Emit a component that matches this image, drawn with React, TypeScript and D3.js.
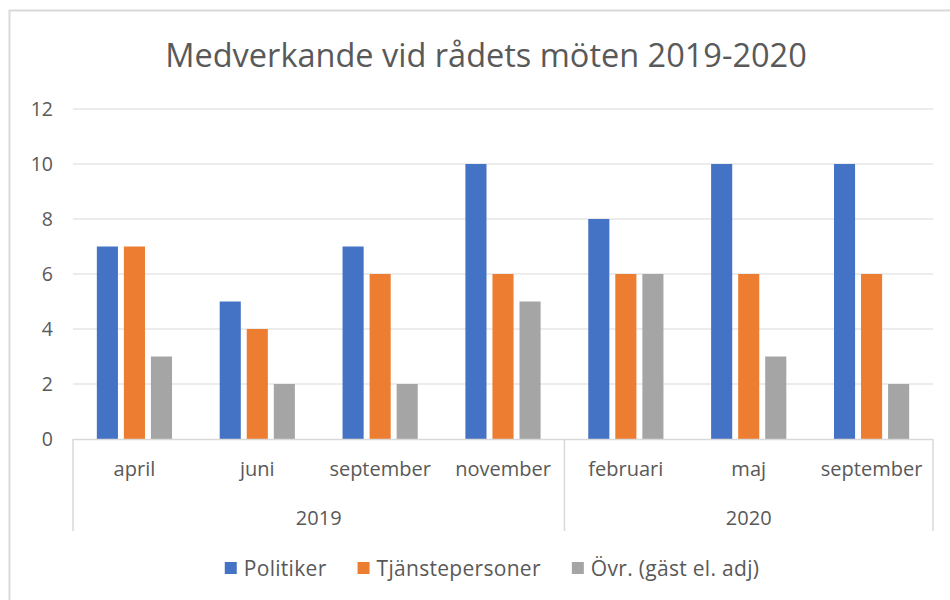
import React, { useEffect, useRef } from 'react'
import * as d3 from 'd3'

const title = 'Medverkande vid rådets möten 2019-2020'
const months = ['april', 'juni', 'september', 'november', 'februari', 'maj', 'september']
const years = ['2019', '2019', '2019', '2019', '2020', '2020', '2020']
const seriesNames = ['Politiker', 'Tjänstepersoner', 'Övr. (gäst el. adj)']
const politiker = [7, 5, 7, 10, 8, 10, 10]
const tjanstepersoner = [7, 4, 6, 6, 6, 6, 6]
const ovriga = [3, 2, 2, 5, 6, 3, 2]
const yTicks = [0, 2, 4, 6, 8, 10, 12]
const colors = ['#4472C4', '#ED7D31', '#A5A5A5']

const FONT = "'Open Sans', 'Noto Sans', sans-serif"
const TEXT = '#595959'

export default function App() {
  const svgRef = useRef<SVGSVGElement>(null)

  useEffect(() => {
    if (!svgRef.current) return
    const svg = d3.select(svgRef.current)
    svg.selectAll('*').remove()

    const width = 950
    const height = 600
    const margin = { top: 109, right: 17, bottom: 161, left: 73 }
    const innerW = width - margin.left - margin.right
    const innerH = height - margin.top - margin.bottom

    // frame (chart is cropped on right and bottom)
    svg.append('rect')
      .attr('x', 9.5).attr('y', 10.5)
      .attr('width', 960).attr('height', 620)
      .attr('fill', '#fff')
      .attr('stroke', '#d9d9d9')
      .attr('stroke-width', 2)

    svg.append('text')
      .attr('x', 486)
      .attr('y', 67)
      .attr('text-anchor', 'middle')
      .style('font-family', FONT)
      .style('font-size', '32.5px')
      .style('fill', TEXT)
      .text(title)

    const g = svg.append('g').attr('transform', `translate(${margin.left},${margin.top})`)

    const idx = months.map((_, i) => i)
    const x0 = d3.scaleBand<number>().domain(idx).range([0, innerW]).padding(0)
    const groupW = x0.bandwidth() * 0.612
    const x1 = d3.scaleBand<number>().domain([0, 1, 2])
      .range([(x0.bandwidth() - groupW) / 2, (x0.bandwidth() + groupW) / 2])
      .paddingInner(0.22).paddingOuter(0)
    const y = d3.scaleLinear().domain([0, 12]).range([innerH, 0])

    // gridlines
    g.selectAll('.grid')
      .data(yTicks.filter(d => d > 0))
      .enter()
      .append('line')
      .attr('x1', 0).attr('x2', innerW)
      .attr('y1', d => y(d)).attr('y2', d => y(d))
      .style('stroke', '#d9d9d9')
      .style('stroke-width', 1)

    // y labels
    g.selectAll('.ylab')
      .data(yTicks)
      .enter()
      .append('text')
      .attr('x', -20)
      .attr('y', d => y(d))
      .attr('dy', '0.35em')
      .attr('text-anchor', 'end')
      .style('font-family', FONT)
      .style('font-size', '19.5px')
      .style('fill', TEXT)
      .text(d => d)

    const series = [politiker, tjanstepersoner, ovriga]
    series.forEach((vals, s) => {
      g.selectAll(`.bar-${s}`)
        .data(vals)
        .enter()
        .append('rect')
        .attr('x', (_, i) => (x0(i) as number) + (x1(s) as number))
        .attr('y', d => y(d))
        .attr('width', x1.bandwidth())
        .attr('height', d => innerH - y(d))
        .style('fill', colors[s])
    })

    // category axis
    const axisColor = '#d9d9d9'
    g.append('line')
      .attr('x1', 0).attr('x2', innerW)
      .attr('y1', innerH + 0.5).attr('y2', innerH + 0.5)
      .style('stroke', axisColor).style('stroke-width', 1.5)

    const yearGroups = d3.groups(idx, i => years[i])
    const bottomY = innerH + 92
    const seps = [0, ...yearGroups.map(([, arr]) => (x0(arr[arr.length - 1]) as number) + x0.bandwidth())]
    g.selectAll('.sep')
      .data(seps)
      .enter()
      .append('line')
      .attr('x1', d => d).attr('x2', d => d)
      .attr('y1', innerH).attr('y2', bottomY)
      .style('stroke', axisColor).style('stroke-width', 1.5)

    g.selectAll('.mlab')
      .data(idx)
      .enter()
      .append('text')
      .attr('x', i => (x0(i) as number) + x0.bandwidth() / 2)
      .attr('y', innerH + 37)
      .attr('text-anchor', 'middle')
      .style('font-family', FONT)
      .style('font-size', '20px')
      .style('fill', TEXT)
      .text(i => months[i])

    g.selectAll('.ylab2')
      .data(yearGroups)
      .enter()
      .append('text')
      .attr('x', ([, arr]) => ((x0(arr[0]) as number) + (x0(arr[arr.length - 1]) as number) + x0.bandwidth()) / 2)
      .attr('y', innerH + 86)
      .attr('text-anchor', 'middle')
      .style('font-family', FONT)
      .style('font-size', '20px')
      .style('fill', TEXT)
      .text(([yr]) => yr)

    // legend
    const legend = svg.append('g')
    const items = legend.selectAll('.li')
      .data(seriesNames)
      .enter()
      .append('g')
    items.append('rect')
      .attr('width', 12).attr('height', 12)
      .attr('y', -6)
      .style('fill', (_, i) => colors[i])
    const labels = items.append('text')
      .attr('x', 19)
      .attr('y', 7.5)
      .style('font-family', FONT)
      .style('font-size', '21px')
      .style('letter-spacing', '0.3px')
      .style('fill', TEXT)
      .text(d => d)
    let cx = 0
    const gap = 31
    labels.each(function (_, i) {
      const w = (this as SVGTextElement).getComputedTextLength()
      d3.select(items.nodes()[i]).attr('transform', `translate(${cx},0)`)
      cx += 19 + w + gap
    })
    const total = cx - gap
    legend.attr('transform', `translate(${492 - total / 2},568)`)
  }, [])

  return (
    <svg
      ref={svgRef}
      width={950}
      height={600}
      style={{ position: 'absolute', left: 0, top: 0, background: '#fff' }}
    />
  )
}
